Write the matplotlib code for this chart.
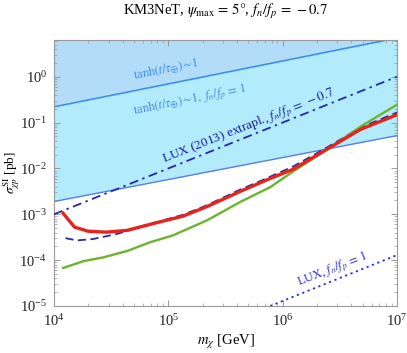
import numpy as np
import matplotlib
matplotlib.use("Agg")
import matplotlib.pyplot as plt
from matplotlib.ticker import LogLocator, NullFormatter

plt.rcParams['font.family'] = ['Liberation Serif', 'DejaVu Serif']
plt.rcParams['mathtext.fontset'] = 'stix'

# ---- data ----
band_mass = [1e4, 1e7]
tanh_upper = [0.22, 6.96]          # tanh(t/tau)~1 line
tanh_lower = [1.9e-3, 5.2e-2]      # tanh(t/tau)~1, fn/fp=1 line
lux_extrap = [1.0e-3, 1.0]         # LUX (2013) extrapl., fn/fp=-0.7
lux_mass = [7.76e5, 1e7]
lux_fn1 = [1e-5, 1.29e-4]          # LUX, fn/fp=1

red_logm = [4.08, 4.18, 4.30, 4.46, 4.64, 4.84, 5.13, 5.34, 5.63, 5.89, 6.09, 6.43, 6.68, 7.0]
red_logs = [-2.98, -3.28, -3.37, -3.39, -3.35, -3.22, -3.04, -2.83, -2.50, -2.22, -2.02, -1.52, -1.15, -0.83]

green_logm = [4.08, 4.26, 4.43, 4.64, 4.84, 5.04, 5.34, 5.63, 5.89, 6.09, 6.43, 6.68, 7.0]
green_logs = [-4.17, -4.02, -3.94, -3.80, -3.61, -3.46, -3.13, -2.73, -2.41, -2.07, -1.52, -1.09, -0.61]

dash_logm = [4.10, 4.20, 4.34, 4.55, 4.84, 5.13, 5.34, 5.63, 5.80, 6.09, 6.39, 6.68, 7.0]
dash_logs = [-3.52, -3.57, -3.54, -3.43, -3.21, -3.01, -2.80, -2.46, -2.28, -1.96, -1.54, -1.11, -0.78]

xlim = (1e4, 1e7)
ylim = (1e-5, 10 ** 0.8)

fig = plt.figure(figsize=(4.07, 3.53), dpi=100)
ax = fig.add_axes([0.1327, 0.1331, 0.8427, 0.7536])
ax.set_xscale('log')
ax.set_yscale('log')

# bands
ax.fill_between(band_mass, tanh_upper, [100, 100], color='#b2dcf8', lw=0, zorder=0)
ax.fill_between(band_mass, tanh_lower, tanh_upper, color='#b2ecfc', lw=0, zorder=0)
ax.plot(band_mass, tanh_upper, color='#3d8fea', lw=1.2, zorder=2)
ax.plot(band_mass, tanh_lower, color='#5a7ee8', lw=1.0, zorder=2)

ax.plot(band_mass, lux_extrap, color='#2626b0', lw=1.3, dashes=(5, 2.5, 1.3, 2.5), zorder=3)
ax.plot(lux_mass, lux_fn1, color='#2a2ae6', lw=1.3, ls=(0, (1.2, 2.0)), zorder=3)

ax.plot(10 ** np.array(dash_logm), 10 ** np.array(dash_logs), color='#2a2aa0', lw=1.3,
        dashes=(4.5, 2.5), zorder=4)
ax.plot(10 ** np.array(green_logm), 10 ** np.array(green_logs), color='#6cb42e', lw=1.7, zorder=5)
ax.plot(10 ** np.array(red_logm), 10 ** np.array(red_logs), color='#e6231c', lw=2.4, zorder=6)

ax.set_xlim(*xlim)
ax.set_ylim(*ylim)

# labels in plot
ax.text(10 ** 4.98, 10 ** 0.14, r'tanh$(t/\tau_{\oplus})\!\sim\!1$', color='#3d8fea', fontsize=9,
        rotation=11.5, ha='center', va='center', zorder=7)
ax.text(10 ** 5.19, 10 ** -0.52, r'tanh$(t/\tau_{\oplus})\!\sim\!1,\ f_n/f_p\,=\,1$', color='#4a88e0',
        fontsize=9, rotation=11.5, ha='center', va='center', zorder=7)
ax.text(10 ** 5.70, 10 ** -1.09, r'LUX (2013) extrapl., $f_n/f_p\,=\,-0.7$', color='#1c1ca8',
        fontsize=9.5, rotation=21.5, ha='center', va='center', zorder=7)
ax.text(10 ** 6.44, 10 ** -4.2, r'LUX, $f_n/f_p\,=\,1$', color='#2a2ae6',
        fontsize=9, rotation=21.5, ha='center', va='center', zorder=7)

fig.text(0.554, 0.967, r'KM3NeT, $\psi_{\rm max}\,=\,5°$, $f_n/f_p\,=\,-0.7$', fontsize=10.5,
         ha='center', va='center')
ax.set_xlabel(r'$m_\chi$ [GeV]', fontsize=10.5)
ax.set_ylabel(r'$\sigma_{\chi p}^{\rm SI}$ [pb]', fontsize=9.5)
ax.xaxis.set_label_coords(0.5, -0.10)
ax.yaxis.set_label_coords(-0.094, 0.5)

for s in ax.spines.values():
    s.set_color('#999999')
    s.set_linewidth(0.8)
ax.tick_params(which='both', direction='in', top=True, right=True, color='#999999',
               labelsize=10.5, labelcolor='#222222')
ax.tick_params(which='major', length=4, width=0.7, pad=5)
ax.tick_params(which='minor', length=2, width=0.5)
ax.xaxis.set_major_locator(LogLocator(base=10, numticks=10))
ax.xaxis.set_minor_locator(LogLocator(base=10, subs=np.arange(2, 10), numticks=10))
ax.yaxis.set_major_locator(LogLocator(base=10, numticks=10))
ax.yaxis.set_minor_locator(LogLocator(base=10, subs=np.arange(2, 10), numticks=10))
ax.xaxis.set_minor_formatter(NullFormatter())
ax.yaxis.set_minor_formatter(NullFormatter())

fig.savefig('out.png', dpi=100)
